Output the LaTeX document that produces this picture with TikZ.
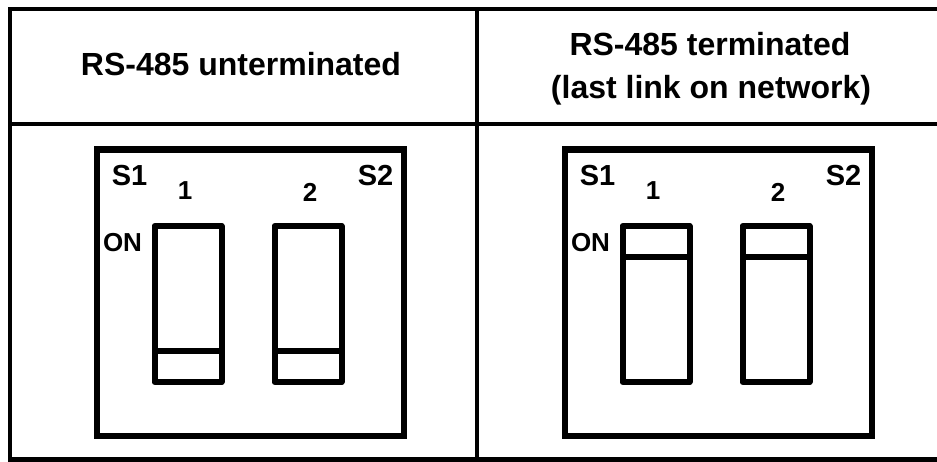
\documentclass[tikz,border=0pt]{standalone}
\usepackage{fontspec}
\setmainfont{Liberation Sans}

\begin{document}
\begin{tikzpicture}[x=0.5pt,y=-0.5pt,
    grid/.style={line width=2.4pt,line cap=rect},
    switchbox/.style={line width=3.2pt},
    toggle/.style={line width=3pt,line join=round},
    head/.style={font=\fontsize{16}{20}\selectfont\bfseries,anchor=base,inner sep=0pt},
    lbl/.style={font=\fontsize{14.5}{17}\selectfont\bfseries,inner sep=0pt},
    numlbl/.style={font=\fontsize{13}{15}\selectfont\bfseries,inner sep=0pt}]
    \clip (0,0) rectangle (937,461);
    \fill[white] (0,0) rectangle (937,461);
    % table
    \draw[grid] (10,9)--(950,9);
    \draw[grid] (10,124)--(950,124);
    \draw[grid] (10,459.5)--(950,459.5);
    \foreach \x in {10,477}
    \draw[grid] (\x,9)--(\x,470);
    \node[head] (unterm) at (241,75) {RS-485 unterminated};
    \node[head] (term) at (710,55) {RS-485 terminated};
    \node[head] (lastlink) at (711,98) {(last link on network)};
    % dip switches, off (left) and on (right)
    \foreach \dx/\side/\dy in {0/L/351,468/R/257}
    {
    \begin{scope}[shift={(\dx,0)}]
    \draw[switchbox] (97,149.5) rectangle (404,436);
    \foreach \tx in {154.5,274.5}
    {
    \draw[toggle] (\tx,226) rectangle ++(67,156);
    \draw[toggle] (\tx,\dy)--++(67,0);
    }
    \node[lbl] (\side-s1) at (129.5,175.5) {S1};
    \node[lbl] (\side-s2) at (375.5,175.5) {S2};
    \node[numlbl] (\side-n1) at (185,191) {1};
    \node[numlbl] (\side-n2) at (310,192) {2};
    \node[numlbl] (\side-on) at (122.5,243) {ON};
    \end{scope}
    }
\end{tikzpicture}
\end{document}
